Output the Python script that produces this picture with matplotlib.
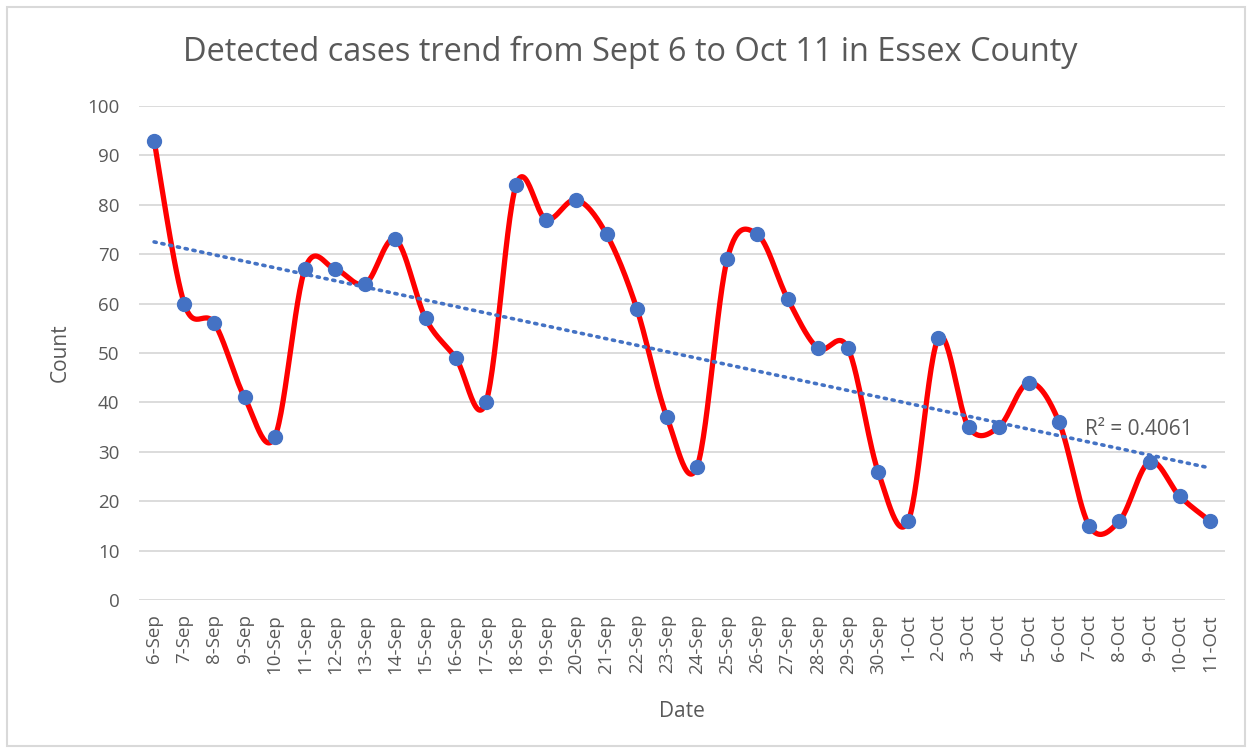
import matplotlib
matplotlib.use('Agg')
import matplotlib.pyplot as plt
import matplotlib.patches as patches
import numpy as np

plt.rcParams['font.family'] = ['Open Sans', 'DejaVu Sans']

dates = ['6-Sep', '7-Sep', '8-Sep', '9-Sep', '10-Sep', '11-Sep', '12-Sep', '13-Sep',
         '14-Sep', '15-Sep', '16-Sep', '17-Sep', '18-Sep', '19-Sep', '20-Sep', '21-Sep',
         '22-Sep', '23-Sep', '24-Sep', '25-Sep', '26-Sep', '27-Sep', '28-Sep', '29-Sep',
         '30-Sep', '1-Oct', '2-Oct', '3-Oct', '4-Oct', '5-Oct', '6-Oct', '7-Oct',
         '8-Oct', '9-Oct', '10-Oct', '11-Oct']
counts = [93, 60, 56, 41, 33, 67, 67, 64, 73, 57, 49, 40, 84, 77, 81, 74,
          59, 37, 27, 69, 74, 61, 51, 51, 26, 16, 53, 35, 35, 44, 36, 15,
          16, 28, 21, 16]
r2_label = 'R² = 0.4061'

GRAY = '#595959'
GRID = '#D9D9D9'
RED = '#FF0000'
BLUE = '#4472C4'


def smooth_curve(x, y, steps=30):
    # Excel-style smoothed line: cubic bezier segments with catmull-rom tangents
    x = np.asarray(x, float)
    y = np.asarray(y, float)
    px = np.concatenate([[x[0]], x, [x[-1]]])
    py = np.concatenate([[y[0]], y, [y[-1]]])
    t = np.linspace(0, 1, steps)[:, None]
    out_x, out_y = [], []
    for i in range(len(x) - 1):
        p0 = np.array([px[i], py[i]])
        p1 = np.array([px[i + 1], py[i + 1]])
        p2 = np.array([px[i + 2], py[i + 2]])
        p3 = np.array([px[i + 3], py[i + 3]])
        c1 = p1 + (p2 - p0) / 6
        c2 = p2 - (p3 - p1) / 6
        b = ((1 - t) ** 3) * p1 + 3 * ((1 - t) ** 2) * t * c1 + 3 * (1 - t) * t ** 2 * c2 + t ** 3 * p2
        out_x.append(b[:, 0])
        out_y.append(b[:, 1])
    return np.concatenate(out_x), np.concatenate(out_y)


xs = np.arange(len(dates))
fig = plt.figure(figsize=(12.52, 7.5), dpi=100)
ax = fig.add_axes([139 / 1252, 1 - 600 / 750, (1225 - 139) / 1252, (600 - 106) / 750])

# border around the chart
fig.patches.append(patches.Rectangle((7 / 1252, 4 / 750), 1238 / 1252, 739 / 750,
                                     transform=fig.transFigure, fill=False,
                                     edgecolor=GRID, linewidth=1.5))

sx, sy = smooth_curve(xs, counts)
ax.plot(sx, sy, color=RED, linewidth=3.8, zorder=3, solid_capstyle='round')
ax.plot(xs, counts, linestyle='none', marker='o', markersize=10,
        color=BLUE, zorder=4)

# linear trendline
slope, intercept = np.polyfit(xs, counts, 1)
ax.plot(xs, slope * xs + intercept, color=BLUE, linestyle=(0, (0.6, 1.6)),
        linewidth=2.6, dash_capstyle='round', zorder=5)
ax.text(30.85, 34.5, r2_label, fontsize=15, color=GRAY, va='center', ha='left', zorder=6)

ax.set_xlim(-0.5, len(dates) - 0.5)
ax.set_ylim(0, 100)
ax.set_yticks(range(0, 101, 10))
ax.set_xticks(xs)
ax.set_xticklabels(dates, rotation=90)
ax.tick_params(axis='both', length=0, labelsize=13.5, colors=GRAY)
ax.tick_params(axis='x', pad=10)
ax.tick_params(axis='y', pad=14)
ax.grid(axis='y', color=GRID, linewidth=1.3)
ax.set_axisbelow(True)
for s in ax.spines.values():
    s.set_visible(False)

ax.set_xlabel('Date', fontsize=15, color=GRAY, labelpad=20)
ax.set_ylabel('Count', fontsize=15, color=GRAY, labelpad=12)
fig.text(630 / 1252, 1 - 52 / 750, 'Detected cases trend from Sept 6 to Oct 11 in Essex County',
         fontsize=23.4, color=GRAY, ha='center', va='center')

fig.savefig('out.png', dpi=100)
